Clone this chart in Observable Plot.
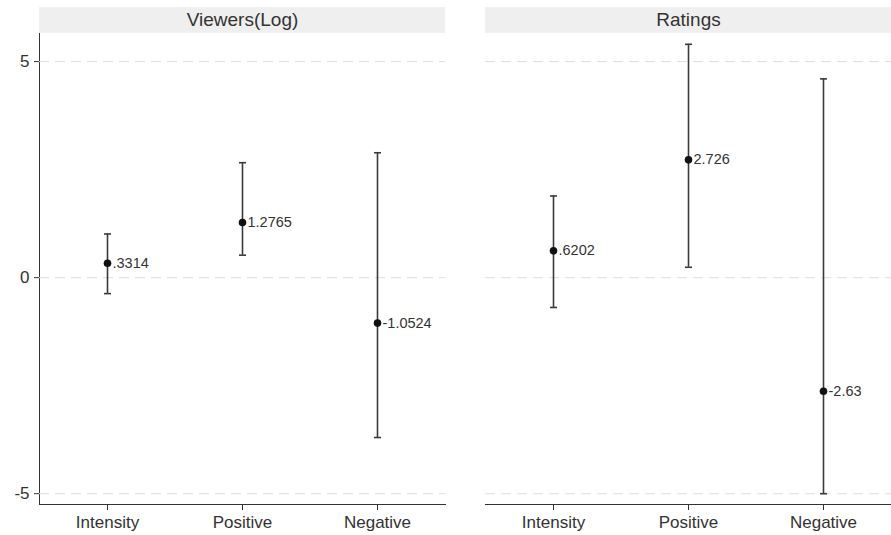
<!DOCTYPE html>
<html><head><meta charset="utf-8">
<script src="https://cdn.jsdelivr.net/npm/d3@7"></script>
<script src="https://cdn.jsdelivr.net/npm/@observablehq/plot@0.6"></script>
<style>body{margin:0;background:#fff}</style>
</head><body><div id="chart"></div>
<script>
const panels = ["Viewers(Log)", "Ratings"];
const categories = ["Intensity", "Positive", "Negative"];
const viewersEst = [0.3314, 1.2765, -1.0524];
const viewersLo = [-0.37, 0.52, -3.70];
const viewersHi = [1.01, 2.66, 2.89];
const ratingsEst = [0.6202, 2.726, -2.63];
const ratingsLo = [-0.69, 0.24, -5.0];
const ratingsHi = [1.89, 5.40, 4.60];
const yTicks = [-5, 0, 5];

const rows = [];
categories.forEach((c, i) => {
  rows.push({panel: panels[0], cat: c, est: viewersEst[i], lo: viewersLo[i], hi: viewersHi[i]});
  rows.push({panel: panels[1], cat: c, est: ratingsEst[i], lo: ratingsLo[i], hi: ratingsHi[i]});
});
const stataFmt = v => String(v).replace(/^(-?)0\./, "$1.");

const yTop = 5.65, yBottom = -5.25, stripTop = 6.25, stripMid = 5.96;
const capSymbol = {draw(ctx, size) { const w = Math.sqrt(size / Math.PI); ctx.moveTo(-w, 0); ctx.lineTo(w, 0); }};
const ink = "#333";

const chart = Plot.plot({
  width: 891,
  height: 535,
  marginLeft: 39,
  marginRight: 0,
  marginTop: 33,
  marginBottom: 31,
  style: {fontFamily: "'Liberation Sans', Arial, sans-serif", fontSize: "17px", color: ink, background: "#fff"},
  fx: {domain: panels, axis: null, paddingInner: 0.09, paddingOuter: 0},
  x: {domain: categories, padding: 0.5, line: true, tickSize: 6, tickPadding: 5, label: null},
  y: {domain: [yBottom, yTop], ticks: yTicks, tickFormat: d => String(d), line: true, tickSize: 5, tickPadding: 5, label: null},
  marks: [
    Plot.gridY(yTicks, {stroke: "#dedede", strokeOpacity: 1, strokeDasharray: "10,6"}),
    Plot.rect(panels, {fx: d => d, y1: () => yTop, y2: () => stripTop, fill: "#efefef"}),
    Plot.text(panels, {fx: d => d, y: () => stripMid, text: d => d, fontSize: 19, fill: ink}),
    Plot.ruleX(rows, {fx: "panel", x: "cat", y1: "lo", y2: "hi", stroke: "#3a3a3a", strokeWidth: 1.6}),
    Plot.dot(rows, {fx: "panel", x: "cat", y: "lo", symbol: capSymbol, r: 3.5, stroke: "#3a3a3a", strokeWidth: 1.6}),
    Plot.dot(rows, {fx: "panel", x: "cat", y: "hi", symbol: capSymbol, r: 3.5, stroke: "#3a3a3a", strokeWidth: 1.6}),
    Plot.dot(rows, {fx: "panel", x: "cat", y: "est", r: 3.8, fill: "#111", stroke: null}),
    Plot.text(rows, {fx: "panel", x: "cat", y: "est", text: d => stataFmt(d.est), dx: 5, textAnchor: "start", fontSize: 14.5, fill: ink})
  ]
});
document.getElementById("chart").append(chart);
</script>
</body></html>
